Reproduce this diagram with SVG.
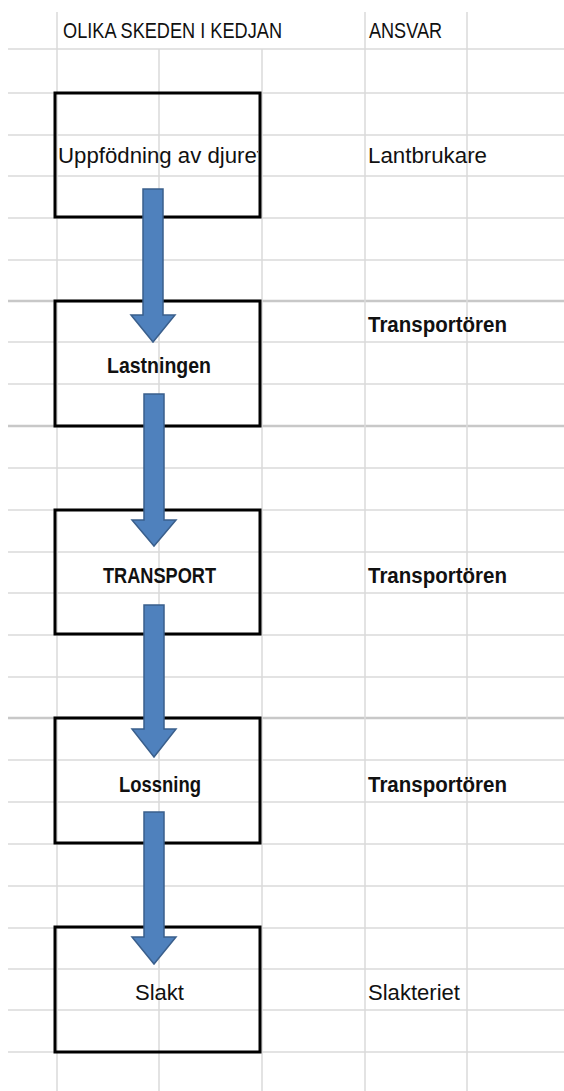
<svg xmlns="http://www.w3.org/2000/svg" width="564" height="1091" viewBox="0 0 564 1091">
<style>
.g{stroke:#dadada;stroke-width:1.5;fill:none}
.gt{stroke:#c8c8c8;stroke-width:2.5;fill:none}
.box{fill:none;stroke:#000;stroke-width:3}
.t{font-family:"Liberation Sans",Arial,sans-serif;font-size:22.5px;fill:#111}
.b{font-weight:bold}
.arrow{fill:#4F81BD;stroke:#3A5F8C;stroke-width:1.5;stroke-linejoin:miter}
</style>
<defs>
<clipPath id="clip1"><rect x="55" y="92" width="203" height="126"/></clipPath>
</defs>
<rect width="564" height="1091" fill="#fff"/>
<g id="grid">
<path class="g" d="M8,49H564M8,93H564M8,135H564M8,176H564M8,218H564M8,260H564M8,342H564M8,384H564M8,468H564M8,510H564M8,552H564M8,593H564M8,635H564M8,677H564M8,760H564M8,802H564M8,844H564M8,886H564M8,928H564M8,969H564M8,1010H564M8,1052H564"/>
<path class="gt" d="M8,301H564M8,426H564M8,718H564"/>
<path class="g" d="M57,12V1091M159,49V1091M262,49V1091M365,12V1091M467,12V1091"/>
</g>
<g id="header">
<text class="t" x="63" y="38" textLength="219" lengthAdjust="spacingAndGlyphs">OLIKA SKEDEN I KEDJAN</text>
<text class="t" x="369" y="38" textLength="73" lengthAdjust="spacingAndGlyphs">ANSVAR</text>
</g>
<g id="node1">
<rect class="box" x="55" y="93" width="205" height="124"/>
<text class="t" x="58" y="163" textLength="205" lengthAdjust="spacingAndGlyphs" clip-path="url(#clip1)">Uppfödning av djuret</text>
</g>
<g id="node2">
<rect class="box" x="55" y="301" width="205" height="125"/>
<text class="t b" x="107" y="373" textLength="104" lengthAdjust="spacingAndGlyphs">Lastningen</text>
</g>
<g id="node3">
<rect class="box" x="55" y="510" width="205" height="124"/>
<text class="t b" x="103" y="583" textLength="113" lengthAdjust="spacingAndGlyphs">TRANSPORT</text>
</g>
<g id="node4">
<rect class="box" x="55" y="718" width="205" height="125"/>
<text class="t b" x="119" y="792" textLength="82" lengthAdjust="spacingAndGlyphs">Lossning</text>
</g>
<g id="node5">
<rect class="box" x="55" y="927" width="205" height="125"/>
<text class="t" x="135" y="1000" textLength="49" lengthAdjust="spacingAndGlyphs">Slakt</text>
</g>
<g id="responsibility">
<text class="t" x="368" y="163" textLength="119" lengthAdjust="spacingAndGlyphs">Lantbrukare</text>
<text class="t b" x="368" y="332" textLength="139" lengthAdjust="spacingAndGlyphs">Transportören</text>
<text class="t b" x="368" y="583" textLength="139" lengthAdjust="spacingAndGlyphs">Transportören</text>
<text class="t b" x="368" y="792" textLength="139" lengthAdjust="spacingAndGlyphs">Transportören</text>
<text class="t" x="368" y="1000" textLength="92" lengthAdjust="spacingAndGlyphs">Slakteriet</text>
</g>
<g id="connectors">
<path class="arrow" d="M143,189H163V315H175L153,342L131,315H143Z"/>
<path class="arrow" d="M144,394H164V520H176L154,546L132,520H144Z"/>
<path class="arrow" d="M144,605H164V729H176L154,757L132,729H144Z"/>
<path class="arrow" d="M144,812H164V937H176L154,964L132,937H144Z"/>
</g>
</svg>
